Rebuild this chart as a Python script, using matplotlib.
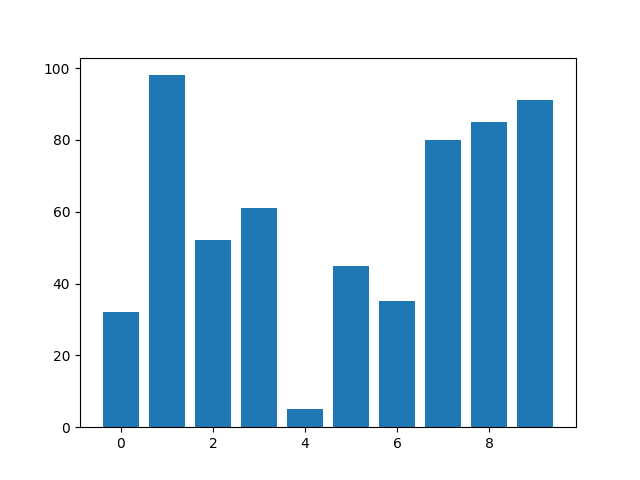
import matplotlib
matplotlib.use("Agg")
import matplotlib.pyplot as plt

categories = list(range(10))
values = [32, 98, 52, 61, 5, 45, 35, 80, 85, 91]

fig, ax = plt.subplots(figsize=(6.4, 4.8), dpi=100)
ax.bar(categories, values)
fig.savefig("out.png")
